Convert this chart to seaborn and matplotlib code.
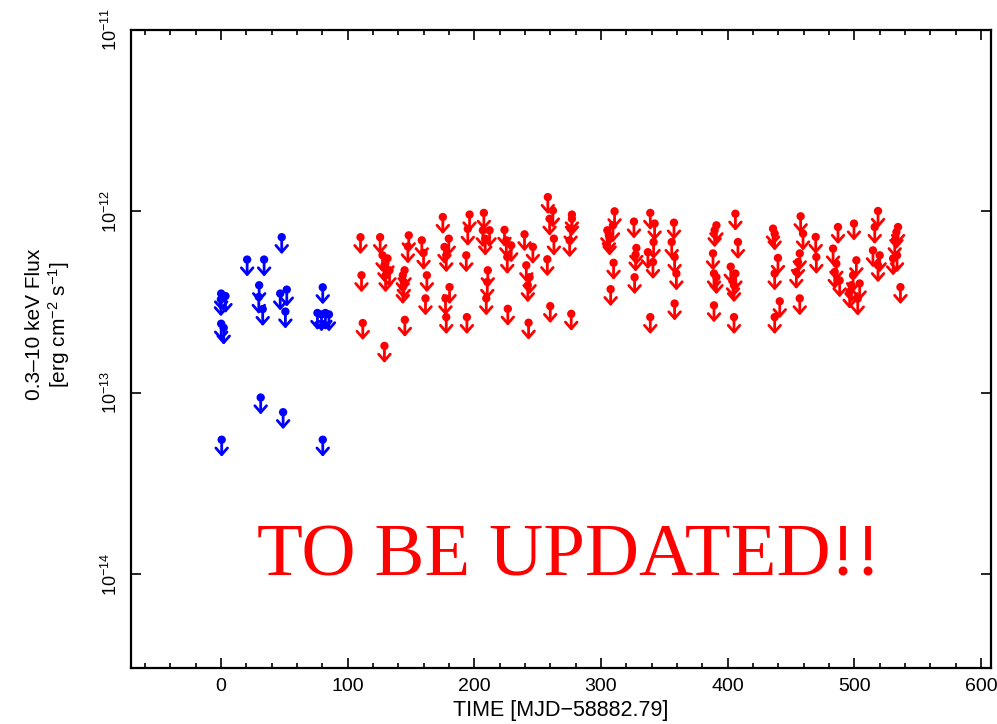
import numpy as np
import pandas as pd
import matplotlib
matplotlib.use("Agg")
import matplotlib.pyplot as plt
from matplotlib.ticker import FixedLocator, MultipleLocator, NullLocator, LogFormatterSciNotation
from matplotlib.transforms import offset_copy
import seaborn as sns

# Days since MJD 58882.79; fluxes are 3-sigma upper limits in units of 1e-13 erg cm^-2 s^-1
time_early = [0.2, 3.6, 0.0, 0.2, 2.2, 0.6,
              20.7, 34.1, 30.2, 29.9, 33.0, 31.4,
              48.0, 52.0, 46.8, 50.9, 49.1,
              80.4, 76.2, 79.4, 82.5, 85.3, 80.4]
flux_early = [3.52, 3.41, 3.27, 2.40, 2.28, 0.55,
              5.42, 5.42, 3.91, 3.37, 2.89, 0.94,
              7.20, 3.70, 3.52, 2.80, 0.78,
              3.81, 2.75, 2.70, 2.75, 2.70, 0.55]

time_late = [110.2, 111.0, 112.0,
             125.7, 129.1, 127.6, 131.5, 129.1, 133.1, 130.0,
             148.3, 147.6, 145.0, 143.6, 144.4, 143.6, 145.2,
             158.6, 160.0, 162.6, 161.5,
             175.2, 179.9, 176.5, 177.9, 180.5, 177.3, 177.9,
             196.3, 194.9, 193.7, 194.2,
             207.6, 206.8, 212.1, 208.7, 210.7, 210.3, 209.5,
             223.9, 225.3, 229.2, 226.1, 226.5,
             239.7, 246.3, 241.1, 243.7, 242.3, 242.9,
             258.1, 262.1, 259.5, 262.9, 257.7, 260.0,
             277.1, 277.1, 276.1, 275.3, 276.6,
             310.8, 309.5, 305.1, 306.3, 306.9, 310.0, 307.7,
             326.1, 328.0, 327.4, 326.6,
             339.0, 342.4, 337.1, 341.6, 341.1, 339.0,
             357.7, 355.9, 358.2, 359.6, 358.2,
             391.2, 389.8, 388.5, 389.3, 391.2, 389.3,
             406.2, 408.2, 402.5, 406.2, 404.3, 405.1, 405.1,
             435.9, 437.2, 439.8, 437.2, 441.2, 437.2,
             457.7, 459.6, 457.0, 455.6, 454.3, 457.0,
             469.6, 470.1,
             487.2, 483.3, 485.9, 484.6, 488.5,
             499.8, 501.7, 499.1, 504.3, 497.8, 502.8, 496.4,
             518.8, 516.2, 514.8, 520.1, 518.8,
             534.6, 533.3, 532.0, 533.8, 530.7, 536.5]
flux_late = [7.20, 4.44, 2.42,
             7.20, 1.81, 5.72, 5.50, 5.04, 4.73, 4.44,
             7.37, 6.40, 4.73, 4.44, 4.08, 3.82, 2.52,
             6.92, 5.90, 4.44, 3.31,
             9.30, 7.07, 6.36, 5.72, 3.82, 3.31, 2.61,
             9.60, 8.00, 5.72, 2.61,
             9.80, 7.86, 7.86, 7.07, 4.73, 4.08, 3.31,
             7.90, 6.92, 6.49, 5.60, 2.90,
             7.47, 6.36, 5.04, 4.33, 3.91, 2.43,
             11.98, 10.10, 9.10, 7.07, 5.44, 3.00,
             9.60, 9.10, 8.03, 6.92, 2.72,
             10.00, 8.37, 7.86, 7.37, 7.07, 5.20, 3.72,
             8.78, 6.28, 5.77, 4.33,
             9.80, 8.56, 5.95, 6.77, 5.25, 2.61,
             8.66, 6.77, 5.60, 4.54, 3.10,
             8.37, 7.86, 5.86, 4.54, 4.33, 3.03,
             9.70, 6.77, 4.95, 4.54, 4.16, 3.91, 2.61,
             8.03, 7.54, 5.53, 4.54, 3.19, 2.61,
             9.39, 7.54, 5.86, 5.25, 4.63, 3.31,
             7.22, 5.60,
             8.19, 6.23, 5.14, 4.63, 4.16,
             8.56, 5.37, 4.44, 4.00, 3.91, 3.30, 3.60,
             10.04, 8.19, 6.09, 5.72, 5.04,
             8.19, 7.68, 6.92, 5.72, 5.50, 3.82]

y_ticks = [1e-14, 1e-13, 1e-12, 1e-11]
FLUX_UNIT = 1e-13

df = pd.concat([
    pd.DataFrame({"time": time_early, "flux": np.array(flux_early) * FLUX_UNIT, "phase": "early"}),
    pd.DataFrame({"time": time_late, "flux": np.array(flux_late) * FLUX_UNIT, "phase": "late"}),
], ignore_index=True)
palette = {"early": "#0000ff", "late": "#ff0000"}

sns.set_theme(style="white")
plt.rcParams["font.family"] = ["Liberation Sans Narrow", "Liberation Sans", "DejaVu Sans"]
plt.rcParams["mathtext.default"] = "regular"

fig = plt.figure(figsize=(9.97, 7.24), dpi=100)
ax = fig.add_axes([131 / 997, 56 / 724, 860 / 997, 638 / 724])
ax.set_yscale("log")
ax.set_xlim(-71, 608)
ax.set_ylim(3.03e-15, 1e-11)

sns.scatterplot(data=df, x="time", y="flux", hue="phase", palette=palette,
                s=36, linewidth=0, legend=False, ax=ax, zorder=3)

# Downward arrows marking upper limits, fixed length in pixels
tip = offset_copy(ax.transData, fig=fig, x=0, y=-17, units="dots")
for t, f, ph in zip(df["time"], df["flux"], df["phase"]):
    ax.annotate("", xy=(t, f), xycoords=tip, xytext=(t, f), textcoords="data",
                arrowprops=dict(arrowstyle="->,head_length=0.48,head_width=0.42",
                                color=palette[ph], lw=2.0, shrinkA=0, shrinkB=0,
                                mutation_scale=10),
                zorder=2)

ax.xaxis.set_major_locator(MultipleLocator(100))
ax.xaxis.set_minor_locator(MultipleLocator(20))
ax.yaxis.set_major_locator(FixedLocator(y_ticks))
ax.yaxis.set_major_formatter(LogFormatterSciNotation())
ax.yaxis.set_minor_locator(NullLocator())

ax.tick_params(which="both", direction="in", top=True, right=True,
               bottom=True, left=True, color="black", width=1.2)
ax.tick_params(which="major", length=7.5)
ax.tick_params(which="minor", length=3.8)
ax.tick_params(axis="x", labelsize=14, pad=7, labelcolor="black")
ax.tick_params(axis="y", labelsize=13, pad=7, labelcolor="black")
for lab in ax.get_yticklabels():
    lab.set_rotation(90)
    lab.set_va("center")

for sp in ax.spines.values():
    sp.set_linewidth(1.6)
    sp.set_color("black")

ax.set_xlabel("TIME [MJD\u221258882.79]", fontsize=15.5, labelpad=4, color="black")
ax.set_ylabel("0.3\u201310 keV Flux\n[erg cm$^{-2}$ s$^{-1}$]", fontsize=15,
              linespacing=1.1, va="center", color="black")
ax.yaxis.set_label_coords(-0.096, 0.539)

fig.text(569 / 997, (724 - 576) / 724, "TO BE UPDATED!!", color="#ff0000",
         fontsize=54, family=["Liberation Serif", "DejaVu Serif"],
         ha="center", va="baseline")

fig.savefig("out.png", dpi=100, facecolor="white")
